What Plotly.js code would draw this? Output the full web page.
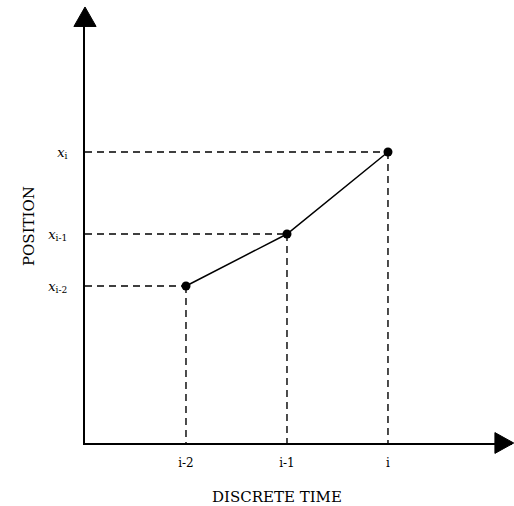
<!DOCTYPE html>
<html>
<head>
<meta charset="utf-8">
<script src="https://cdn.plot.ly/plotly-3.0.1.min.js"></script>
<style>html,body{margin:0;padding:0;background:#fff;}#chart{width:514px;height:506px;}</style>
</head>
<body>
<div id="chart"></div>
<script>
// Data
const timeSteps = [1, 2, 3];
const timeLabels = ["i-2", "i-1", "i"];
const positions = [157, 209, 291];
const positionLabels = ["<i>x</i><sub>i-2</sub>", "<i>x</i><sub>i-1</sub>", "<i>x</i><sub>i</sub>"];

const serif = "DejaVu Serif, Liberation Serif, serif";
const dash = "7px,5px";

const traces = [];
// dashed guide lines
timeSteps.forEach((t, k) => {
  traces.push({x: [0, t], y: [positions[k], positions[k]], mode: "lines",
    line: {color: "#000", width: 1.4, dash: dash}, hoverinfo: "skip", showlegend: false});
  traces.push({x: [t, t], y: [positions[k], 0], mode: "lines",
    line: {color: "#000", width: 1.4, dash: dash}, hoverinfo: "skip", showlegend: false});
});
// trajectory
traces.push({x: timeSteps, y: positions, mode: "lines+markers",
  line: {color: "#000", width: 1.5}, marker: {color: "#000", size: 9}, showlegend: false});

const layout = {
  width: 514, height: 506,
  margin: {l: 85, r: 2, t: 10, b: 63},
  paper_bgcolor: "#fff", plot_bgcolor: "#fff",
  showlegend: false,
  xaxis: {range: [0, 4.228], tickvals: timeSteps, ticktext: timeLabels,
    showgrid: false, zeroline: false, showline: true, linecolor: "#000", linewidth: 2,
    ticks: "", ticklabelstandoff: 8, tickfont: {family: serif, size: 12, color: "#000"}},
  yaxis: {range: [0, 433], tickvals: positions, ticktext: positionLabels,
    showgrid: false, zeroline: false, showline: true, linecolor: "#000", linewidth: 2,
    ticks: "", ticklabelstandoff: 13, tickfont: {family: serif, size: 13, color: "#000"}},
  shapes: [
    {type: "path", xref: "paper", yref: "paper", path: "M0,1.007 L-0.026,0.962 L0.026,0.962 Z",
     fillcolor: "#000", line: {color: "#000", width: 1}},
    {type: "path", xref: "paper", yref: "paper", path: "M1.004,0 L0.96,0.024 L0.96,-0.024 Z",
     fillcolor: "#000", line: {color: "#000", width: 1}}
  ],
  annotations: [
    {text: "POSITION", xref: "paper", yref: "paper", x: -0.158, y: 0.5, textangle: -90,
     showarrow: false, font: {family: serif, size: 15, color: "#000"}},
    {text: "DISCRETE TIME", xref: "paper", yref: "paper", x: 0.45, y: -0.125, yanchor: "middle",
     showarrow: false, font: {family: serif, size: 15, color: "#000"}}
  ]
};

Plotly.newPlot("chart", traces, layout, {displayModeBar: false, staticPlot: true});
</script>
</body>
</html>
